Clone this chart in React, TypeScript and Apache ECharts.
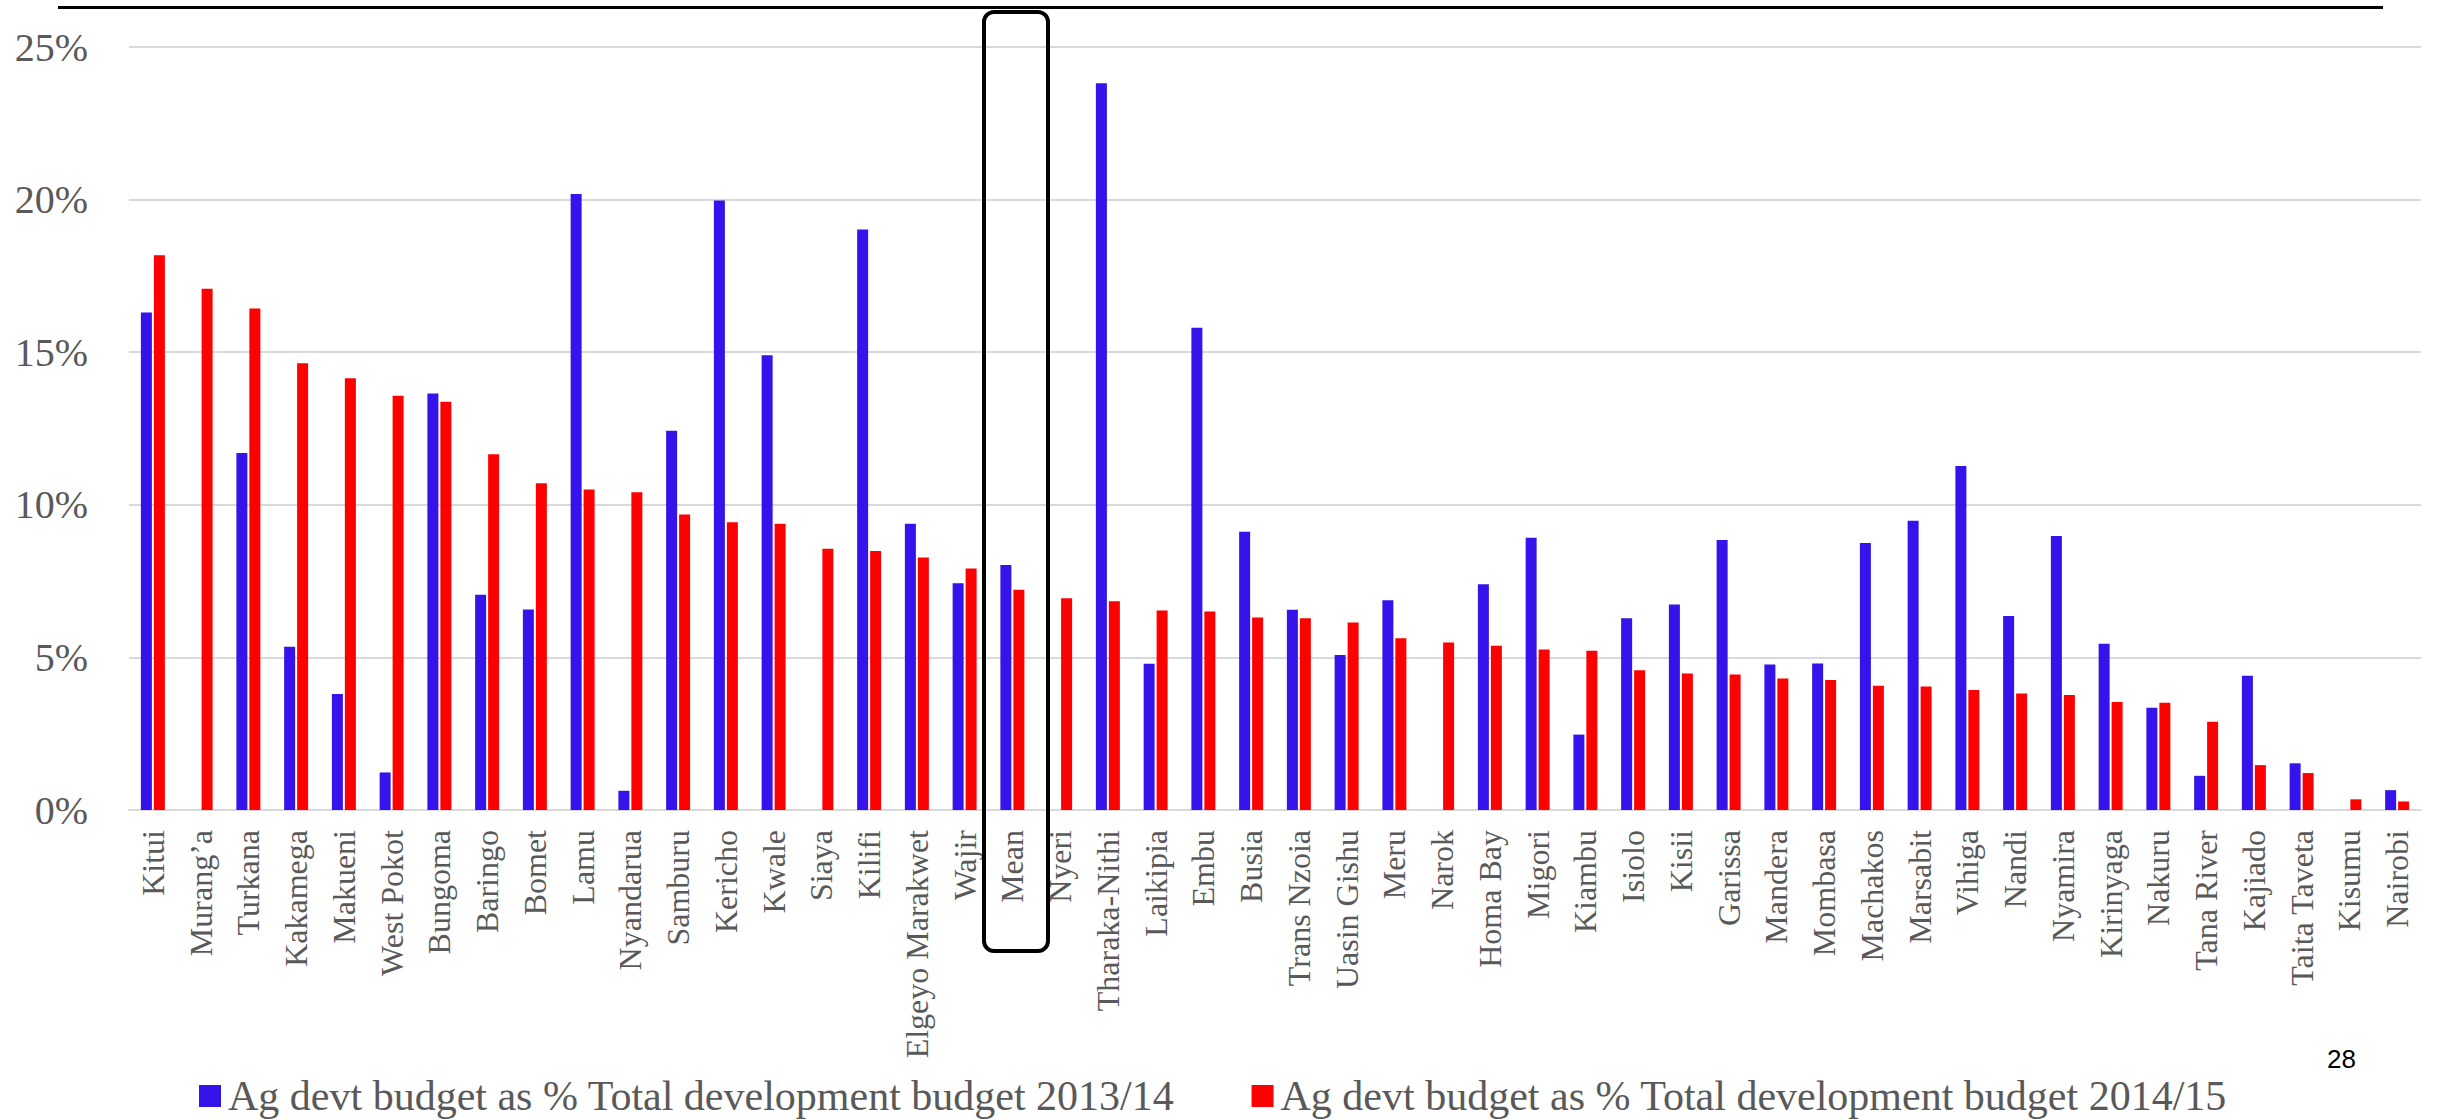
import React, { useEffect, useRef } from "react";
import * as echarts from "echarts";

// Counties, ordered by the 2014/15 share, with the national mean in the middle
const counties = [
  "Kitui", "Murang’a", "Turkana", "Kakamega", "Makueni", "West Pokot", "Bungoma",
  "Baringo", "Bomet", "Lamu", "Nyandarua", "Samburu", "Kericho", "Kwale", "Siaya",
  "Kilifi", "Elgeyo Marakwet", "Wajir", "Mean", "Nyeri", "Tharaka-Nithi", "Laikipia",
  "Embu", "Busia", "Trans Nzoia", "Uasin Gishu", "Meru", "Narok", "Homa Bay", "Migori",
  "Kiambu", "Isiolo", "Kisii", "Garissa", "Mandera", "Mombasa", "Machakos", "Marsabit",
  "Vihiga", "Nandi", "Nyamira", "Kirinyaga", "Nakuru", "Tana River", "Kajiado",
  "Taita Taveta", "Kisumu", "Nairobi",
];

// Agriculture development budget as % of total development budget (2013/14)
const share2013 = [
  16.3, 0, 11.7, 5.35, 3.8, 1.23, 13.65, 7.05, 6.57, 20.18, 0.63, 12.43, 19.97, 14.9, 0,
  19.02, 9.38, 7.43, 8.03, 0, 23.81, 4.79, 15.8, 9.12, 6.56, 5.08, 6.87, 0, 7.4, 8.92,
  2.47, 6.28, 6.73, 8.85, 4.77, 4.8, 8.75, 9.48, 11.27, 6.36, 8.98, 5.45, 3.35, 1.12,
  4.4, 1.53, 0, 0.65,
];

// Agriculture development budget as % of total development budget (2014/15)
const share2014 = [
  18.18, 17.08, 16.43, 14.64, 14.15, 13.57, 13.38, 11.66, 10.71, 10.5, 10.41, 9.68, 9.43,
  9.38, 8.56, 8.49, 8.27, 7.91, 7.22, 6.94, 6.84, 6.54, 6.5, 6.31, 6.28, 6.14, 5.63, 5.49,
  5.38, 5.26, 5.22, 4.58, 4.47, 4.44, 4.31, 4.26, 4.07, 4.05, 3.93, 3.82, 3.77, 3.54, 3.51,
  2.89, 1.47, 1.21, 0.35, 0.28,
];

const seriesNames = [
  "Ag devt budget as % Total development budget 2013/14",
  "Ag devt budget as % Total development budget 2014/15",
];

const yTicks = { min: 0, max: 25, interval: 5 };

const SERIF = '"Liberation Serif", "Times New Roman", serif';
const GREY = "#595959";

export default function App() {
  const ref = useRef<HTMLDivElement>(null);

  useEffect(() => {
    if (!ref.current) return;
    const chart = echarts.init(ref.current, undefined, { renderer: "svg" });
    chart.setOption({
      animation: false,
      backgroundColor: "#ffffff",
      grid: { left: 129, right: 19, top: 47, bottom: 310, containLabel: false },
      legend: {
        left: 199,
        top: 1075,
        padding: 0,
        itemWidth: 22,
        itemHeight: 22,
        itemGap: 77,
        icon: "rect",
        textStyle: {
          fontFamily: SERIF,
          fontSize: 42,
          lineHeight: 42,
          color: GREY,
          padding: [0, 0, 0, 2],
        },
        data: seriesNames,
      },
      xAxis: {
        type: "category",
        data: counties,
        axisTick: { show: false },
        axisLine: { lineStyle: { color: "#d9d9d9", width: 2 } },
        axisLabel: {
          interval: 0,
          rotate: 90,
          margin: 20,
          fontFamily: SERIF,
          fontSize: 32,
          color: GREY,
        },
      },
      yAxis: {
        type: "value",
        min: yTicks.min,
        max: yTicks.max,
        interval: yTicks.interval,
        axisLine: { show: false },
        axisTick: { show: false },
        splitLine: { lineStyle: { color: "#d9d9d9", width: 2 } },
        axisLabel: {
          formatter: "{value}%",
          margin: 41,
          fontFamily: SERIF,
          fontSize: 40,
          color: GREY,
        },
      },
      series: [
        {
          name: seriesNames[0],
          type: "bar",
          data: share2013,
          barWidth: 11,
          barGap: "18%",
          itemStyle: { color: "#3513EA" },
        },
        {
          name: seriesNames[1],
          type: "bar",
          data: share2014,
          barWidth: 11,
          itemStyle: { color: "#FF0000" },
        },
      ],
      graphic: [
        {
          type: "line",
          shape: { x1: 58, y1: 7.5, x2: 2383, y2: 7.5 },
          style: { stroke: "#000000", lineWidth: 3 },
        },
        {
          type: "rect",
          shape: { x: 984, y: 12, width: 64, height: 939, r: 10 },
          style: { fill: "none", stroke: "#000000", lineWidth: 4 },
          z: 100,
        },
        {
          type: "text",
          x: 2327,
          y: 1046,
          style: {
            text: "28",
            fontFamily: '"Liberation Sans", Arial, sans-serif',
            fontSize: 26,
            fill: "#000000",
          },
        },
      ],
    });
    return () => chart.dispose();
  }, []);

  return (
    <div
      ref={ref}
      style={{ position: "absolute", left: 0, top: 0, width: 2440, height: 1120 }}
    />
  );
}
